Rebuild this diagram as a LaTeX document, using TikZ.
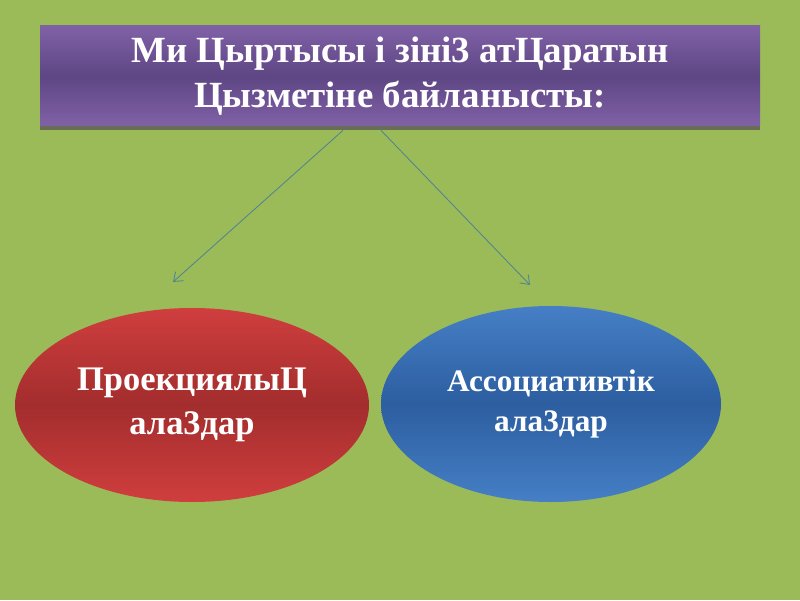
\documentclass[tikz,border=0pt]{standalone}
\usepackage{fontspec}
\setmainfont{Liberation Serif}
\definecolor{bggreen}{RGB}{155,187,89}
\definecolor{titletop}{RGB}{128,97,166}
\definecolor{titlemid}{RGB}{94,70,132}
\definecolor{titleedge}{RGB}{104,110,86}
\definecolor{redtop}{RGB}{208,62,62}
\definecolor{redmid}{RGB}{163,45,45}
\definecolor{bluetop}{RGB}{70,127,198}
\definecolor{bluemid}{RGB}{44,94,160}
\definecolor{arrowcol}{RGB}{84,132,142}
\usetikzlibrary{shapes.geometric,arrows.meta}
\tikzset{
  titlebox/.style={rectangle, minimum width=14.4cm, minimum height=2cm, top color=titletop, bottom color=titletop, middle color=titlemid, text=white, font=\bfseries\fontsize{21}{26}\selectfont, align=center},
  kindbox/.style={ellipse, text=white, font=\bfseries\fontsize{19.6}{25}\selectfont, align=center},
  link/.style={-{Straight Barb[length=1.6mm,width=2.4mm]}, draw=arrowcol, line width=0.5pt}
}
\begin{document}
\begin{tikzpicture}
            \useasboundingbox (0,0) rectangle (16,12);
            \fill [bggreen] (0,0) rectangle (16,12);
            \fill [titleedge] (0.8,9.4) rectangle (15.2,9.5);
            \node [titlebox] (title) at (8,10.48) {Ми Цыртысы і зіні3 атЦаратын\\Цызметіне байланысты:};
            \node [kindbox, minimum width=7.08cm, minimum height=3.88cm, top color=redtop, bottom color=redtop, middle color=redmid] (proj) at (3.84,3.9) {ПроекциялыЦ\\ала3дар};
            \node [kindbox, minimum width=6.8cm, minimum height=3.92cm, top color=bluetop, bottom color=bluetop, middle color=bluemid, font=\bfseries\fontsize{17.8}{23}\selectfont] (assoc) at (11.02,3.92) {Ассоциативтік\\ала3дар};
            \coordinate (projend) at (3.46,6.36);
            \coordinate (assocend) at (10.6,6.3);
            \draw [link] ([xshift=-1.14cm,yshift=-0.08cm]title.south) to (projend);
            \draw [link] ([xshift=-0.38cm,yshift=-0.08cm]title.south) to (assocend);
        \end{tikzpicture}
\end{document}
